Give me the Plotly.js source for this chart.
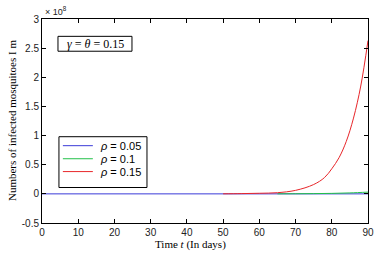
<!DOCTYPE html>
<html>
<head>
<meta charset="utf-8">
<script src="https://cdn.plot.ly/plotly-3.0.1.min.js"></script>
<style>
  html, body { margin: 0; padding: 0; background: #fff; }
  #chart { width: 374px; height: 253px; }
</style>
</head>
<body>
<div id="chart"></div>
<script>
// Infected mosquito counts (units of 1e8) over time for three rho values
const daysBlue = [0, 10, 20, 30, 40, 50, 60, 70, 80, 90];
const rho005 = [0, 0, 0, 0, 0, 0, 0, 0, 0, 0];

const daysGreen = [65, 70, 75, 80, 85, 90];
const rho01 = [0.001, 0.002, 0.004, 0.008, 0.016, 0.03];

const daysRed = [50, 55, 60, 65, 70, 75, 78, 80, 82, 84, 86, 88, 90];
const rho015 = [0.001, 0.004, 0.01, 0.02, 0.06, 0.16, 0.28, 0.43, 0.62, 0.9, 1.3, 1.85, 2.63];

const legendNames = ['<i>\u03C1</i> = 0.05', '<i>\u03C1</i> = 0.1', '<i>\u03C1</i> = 0.15'];
const seriesColors = ['#3a3ad8', '#22c04a', '#e8262a'];
const xTicks = [0, 10, 20, 30, 40, 50, 60, 70, 80, 90];
const yTicks = [-0.5, 0, 0.5, 1, 1.5, 2, 2.5, 3];
const yTickText = ['-0.5', '0', '0.5', '1', '1.5', '2', '2.5', '3'];

const traces = [
  { x: daysBlue, y: rho005, name: legendNames[0], mode: 'lines',
    line: { color: seriesColors[0], width: 1 } },
  { x: daysGreen, y: rho01, name: legendNames[1], mode: 'lines',
    line: { color: seriesColors[1], width: 1, shape: 'spline' } },
  { x: daysRed, y: rho015, name: legendNames[2], mode: 'lines',
    line: { color: seriesColors[2], width: 1, shape: 'spline' } }
];

const axisCommon = {
  showline: true, linecolor: '#000', linewidth: 1, mirror: 'ticks',
  ticks: 'inside', ticklen: 4, tickcolor: '#000', showgrid: false, zeroline: false,
  tickfont: { family: 'Liberation Sans, Arial, sans-serif', size: 10, color: '#222' }
};

const serif = 'Liberation Serif, Times New Roman, serif';
const sans = 'Liberation Sans, Arial, sans-serif';

// Boxed legend drawn in paper coordinates
const legBox = { x0: 0.052, x1: 0.322, y0: 0.174, y1: 0.423 };
const legRowsY = [0.379, 0.315, 0.252];
const shapes = [
  { type: 'rect', xref: 'paper', yref: 'paper', x0: legBox.x0, x1: legBox.x1,
    y0: legBox.y0, y1: legBox.y1, line: { color: '#000', width: 1 }, fillcolor: '#fff' },
  { type: 'rect', xref: 'paper', yref: 'paper', x0: 0.049, x1: 0.276,
    y0: 0.842, y1: 0.915, line: { color: '#000', width: 1 }, fillcolor: '#fff' }
];
const annotations = [
  { xref: 'paper', yref: 'paper', x: 0.003, y: 1.0, xanchor: 'left', yanchor: 'bottom',
    text: '\u00D7 10<sup>8</sup>', showarrow: false,
    font: { family: sans, size: 9, color: '#222' } },
  { xref: 'paper', yref: 'paper', x: 0.163, y: 0.878, xanchor: 'center', yanchor: 'middle',
    text: '<i>\u03B3</i> = <i>\u03B8</i> = 0.15', showarrow: false,
    font: { family: serif, size: 12, color: '#000' } },
  { xref: 'paper', yref: 'paper', x: 0.457, y: -0.105, xanchor: 'center', yanchor: 'middle',
    text: 'Time <i>t</i> (In days)', showarrow: false,
    font: { family: serif, size: 11, color: '#000' } },
  { xref: 'paper', yref: 'paper', x: -0.092, y: 0.5, xanchor: 'center', yanchor: 'middle',
    textangle: -90, text: 'Numbers of infected mosquitoes I m', showarrow: false,
    font: { family: serif, size: 11, color: '#000' } }
];
legendNames.forEach((name, i) => {
  shapes.push({ type: 'line', xref: 'paper', yref: 'paper', x0: 0.064, x1: 0.156,
    y0: legRowsY[i], y1: legRowsY[i], line: { color: seriesColors[i], width: 1 } });
  annotations.push({ xref: 'paper', yref: 'paper', x: 0.172, y: legRowsY[i],
    xanchor: 'left', yanchor: 'middle', text: name, showarrow: false,
    font: { family: sans, size: 11, color: '#000' } });
});

const layout = {
  width: 374, height: 253,
  margin: { l: 42, r: 6, t: 19, b: 29.5 },
  paper_bgcolor: '#fff', plot_bgcolor: '#fff',
  showlegend: false,
  xaxis: Object.assign({}, axisCommon, { range: [0, 90], tickvals: xTicks }),
  yaxis: Object.assign({}, axisCommon, { range: [-0.5, 3], tickvals: yTicks, ticktext: yTickText }),
  shapes: shapes,
  annotations: annotations
};

Plotly.newPlot('chart', traces, layout, { displayModeBar: false, staticPlot: true });
</script>
</body>
</html>
